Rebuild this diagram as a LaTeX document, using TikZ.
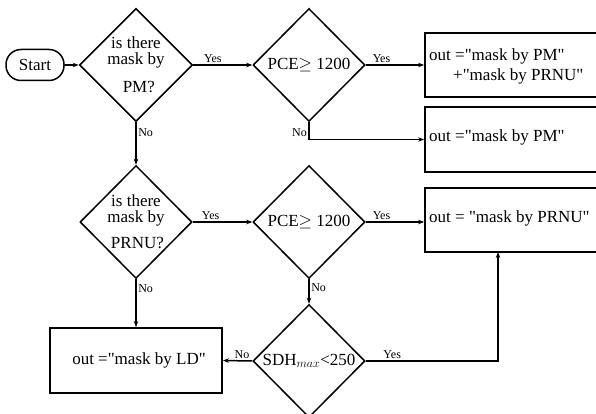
\documentclass[tikz,border=0pt]{standalone}
\usepackage{fontspec}
\setmainfont{Liberation Serif}[Ligatures=TeXOff]
\usetikzlibrary{shapes.geometric,arrows.meta}
\begin{document}
\begin{tikzpicture}[x=1pt,y=-1pt,
  font=\fontsize{17}{16}\selectfont,
  dia/.style={draw, line width=1.5pt, diamond, inner sep=0pt, minimum width=112pt, minimum height=113pt, align=center},
  box/.style={draw, line width=1.8pt, rectangle, inner sep=0pt},
  txt/.style={inner sep=0pt, align=left, anchor=west},
  arr/.style={line width=1.5pt, -{Stealth[length=6pt,width=4.5pt]}},
  lbl/.style={font=\fontsize{12}{13}\selectfont, inner sep=1.5pt}]
\useasboundingbox (0,0) rectangle (596,414);
\node[draw, line width=1.5pt, rounded corners=15pt, minimum width=58pt, minimum height=31pt, inner sep=0pt] (start) at (35,65) {Start};
\node[dia] (d1) at (136,65) {is there\\mask by\\[12pt]\,\,PM?};
\node[dia] (d2) at (309,65) {PCE$\geq$ 1200};
\node[dia] (d3) at (136,222) {is there\\mask by\\[10pt]\,PRNU?};
\node[dia] (d4) at (309,222) {PCE$\geq$ 1200};
\node[dia] (d5) at (309,361) {SDH$_{max}$<250};
\node[box, minimum width=175pt, minimum height=64pt] (b1) at (512.5,65) {};
\node[box, minimum width=175pt, minimum height=65pt] (b2) at (512.5,139.5) {};
\node[box, minimum width=175pt, minimum height=64pt] (b3) at (512.5,220) {};
\node[box, minimum width=172pt, minimum height=65pt] (b4) at (136,360.5) {\hspace*{6pt}out ="mask by LD"};
\node[txt] (t1) at (429,66) {out ="mask by PM"\\[4pt]\hspace*{24pt}+"mask by PRNU"};
\node[txt] (t2) at (429,137) {out ="mask by PM"};
\node[txt] (t3) at (429,218) {out = "mask by PRNU"};
\coordinate (b3x) at (498,252);
\draw[arr] (start) -- (d1);
\draw[arr] (d1.east) -- node[lbl, above, pos=0.33] {Yes} (d2.west);
\draw[arr] (d2.east) -- node[lbl, above, pos=0.27] {Yes} (d2.east -| b1.west);
\draw[arr] (d2.south) |- node[lbl, left, pos=0.3] {No} (b2.west);
\draw[arr] (d1.south) -- node[lbl, right, pos=0.25] {No} (d3.north);
\draw[arr] (d3.east) -- node[lbl, above, pos=0.3] {Yes} (d4.west);
\draw[arr] (d4.east) -- node[lbl, above, pos=0.27] {Yes} (d4.east -| b3.west);
\draw[arr] (d4.south) -- node[lbl, right, pos=0.35] {No} (d5.north);
\draw[arr] (d3.south) -- node[lbl, right, pos=0.2] {No} (b4.north);
\draw[arr] (d5.west) -- node[lbl, above, pos=0.35] {No} (b4.east);
\draw[arr] (d5.east) -| node[lbl, above, pos=0.1] {Yes} (b3x);
\end{tikzpicture}
\end{document}
